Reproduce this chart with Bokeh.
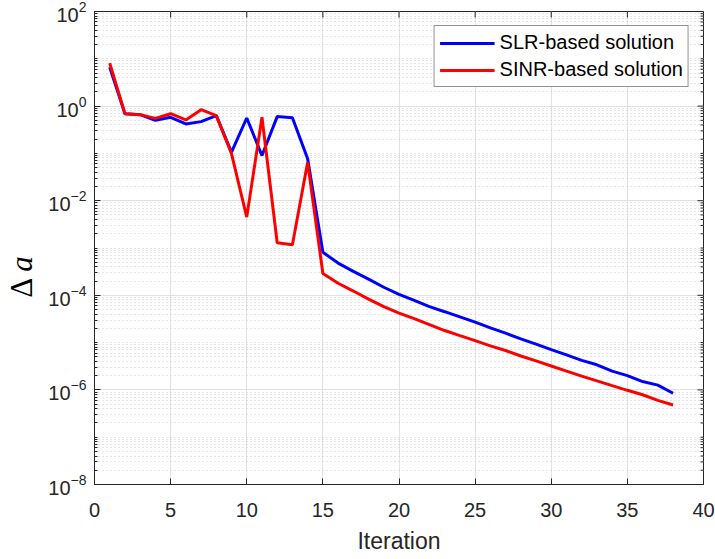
import math
from bokeh.plotting import figure
from bokeh.layouts import row
from bokeh.models import (FixedTicker, Legend, LegendItem, Range1d, ColumnDataSource, Div)
from bokeh.embed import file_html
from bokeh.resources import INLINE

# ---- data ----
iterations = list(range(1, 39))
slr = [6.6, 0.69, 0.66, 0.50, 0.58, 0.42, 0.47, 0.63, 0.106, 0.56,
       0.09, 0.60, 0.565, 0.077, 8.1e-4, 4.8e-4, 3.2e-4, 2.2e-4, 1.48e-4, 1.05e-4,
       7.8e-5, 5.75e-5, 4.5e-5, 3.5e-5, 2.7e-5, 2.04e-5, 1.58e-5, 1.2e-5, 9.3e-6, 7.1e-6,
       5.5e-6, 4.2e-6, 3.4e-6, 2.5e-6, 2.0e-6, 1.5e-6, 1.26e-6, 8.5e-7]
sinr = [8.1, 0.69, 0.66, 0.55, 0.69, 0.51, 0.84, 0.63, 0.098, 0.0045,
        0.58, 0.00129, 0.00117, 0.065, 2.9e-4, 1.8e-4, 1.23e-4, 8.3e-5, 5.75e-5, 4.2e-5,
        3.2e-5, 2.4e-5, 1.8e-5, 1.4e-5, 1.1e-5, 8.5e-6, 6.8e-6, 5.2e-6, 4.1e-6, 3.2e-6,
        2.5e-6, 1.95e-6, 1.55e-6, 1.23e-6, 9.8e-7, 7.9e-7, 6.0e-7, 4.8e-7]
series_names = ["SLR-based solution", "SINR-based solution"]
x_label = "Iteration"
x_ticks = [0, 5, 10, 15, 20, 25, 30, 35, 40]
y_exponents = list(range(-8, 3))
y_major = [10.0 ** e for e in y_exponents if e % 2 == 0]
y_minor = [m * 10.0 ** e for e in y_exponents[:-1] for m in range(1, 10)
           if not (m == 1 and e % 2 == 0)]

AX = "#262626"
FONT = "Liberation Sans"
X0, X1 = 0, 40
Y0, Y1 = 1e-8, 1e2
LEFT_W = 36

p = figure(width=715 - LEFT_W, height=559, y_axis_type="log",
           x_range=Range1d(X0, X1), y_range=Range1d(Y0, Y1),
           output_backend="svg", toolbar_location=None,
           min_border_left=94 - LEFT_W, min_border_right=12, min_border_top=11,
           min_border_bottom=75, background_fill_color="white",
           border_fill_color="white")
p.outline_line_color = AX
p.outline_line_width = 1

xt = FixedTicker(ticks=x_ticks, minor_ticks=[])
yt = FixedTicker(ticks=y_major, minor_ticks=y_minor)

xa = p.xaxis[0]
xa.ticker = xt
ya = p.yaxis[0]
ya.ticker = yt

for ax in (xa, ya):
    ax.axis_line_color = AX
    ax.major_tick_line_color = AX
    ax.minor_tick_line_color = AX
    ax.major_tick_in = 6
    ax.major_tick_out = 0
    ax.minor_tick_in = 3
    ax.minor_tick_out = 0
    ax.major_label_text_font = FONT
    ax.major_label_text_font_size = "20px"
    ax.major_label_text_color = AX
xa.major_label_standoff = 18
ya.major_label_standoff = 8
xa.axis_label = x_label
xa.axis_label_text_font = FONT
xa.axis_label_text_font_size = "23px"
xa.axis_label_text_font_style = "normal"
xa.axis_label_text_color = AX
xa.axis_label_standoff = 8

# grids
p.xgrid.ticker = xt
p.ygrid.ticker = yt
p.xgrid.grid_line_color = "#e2e2e2"
p.ygrid.grid_line_color = "#e2e2e2"
p.ygrid.minor_grid_line_color = "#cccccc"
p.ygrid.minor_grid_line_dash = "1 3"

# mirrored ticks on the top and right edges of the box
p.ray(x=[X1] * len(y_major), y=y_major, length=6, length_units="screen",
      angle=math.pi, line_color=AX, line_width=1)
p.ray(x=[X1] * len(y_minor), y=y_minor, length=3, length_units="screen",
      angle=math.pi, line_color=AX, line_width=1)
p.ray(x=x_ticks, y=[Y1] * len(x_ticks), length=6, length_units="screen",
      angle=-math.pi / 2, line_color=AX, line_width=1)

src = ColumnDataSource(dict(x=iterations, slr=slr, sinr=sinr))
r1 = p.line("x", "slr", source=src, line_color="#0000ff", line_width=3)
r2 = p.line("x", "sinr", source=src, line_color="#ff0000", line_width=3)

legend = Legend(items=[LegendItem(label=series_names[0], renderers=[r1]),
                       LegendItem(label=series_names[1], renderers=[r2])],
                location="top_right")
legend.margin = 14
legend.padding = 5
legend.spacing = 4
legend.glyph_width = 55
legend.glyph_height = 20
legend.label_height = 20
legend.label_standoff = 5
legend.label_text_font = FONT
legend.label_text_font_size = "20px"
legend.label_text_color = "#000000"
legend.border_line_color = AX
legend.border_line_width = 1
legend.background_fill_alpha = 1
p.add_layout(legend, "center")

# y-axis label (Δa, with an italic a), drawn as rotated real text
ylab_html = (
    f'<div style="position:relative;width:{LEFT_W}px;height:559px;">'
    '<span style="position:absolute;left:21px;top:277px;'
    'transform:translate(-50%,-50%) rotate(-90deg);white-space:nowrap;'
    "font-family:'Liberation Serif';font-size:31px;line-height:1;color:#000;\">"
    'Δ<i style="margin-left:6px;">a</i></span></div>'
)
ylab = Div(text=ylab_html, width=LEFT_W, height=559, margin=0)

layout = row(ylab, p, spacing=0)
open("out.html", "w").write(file_html(layout, INLINE))
